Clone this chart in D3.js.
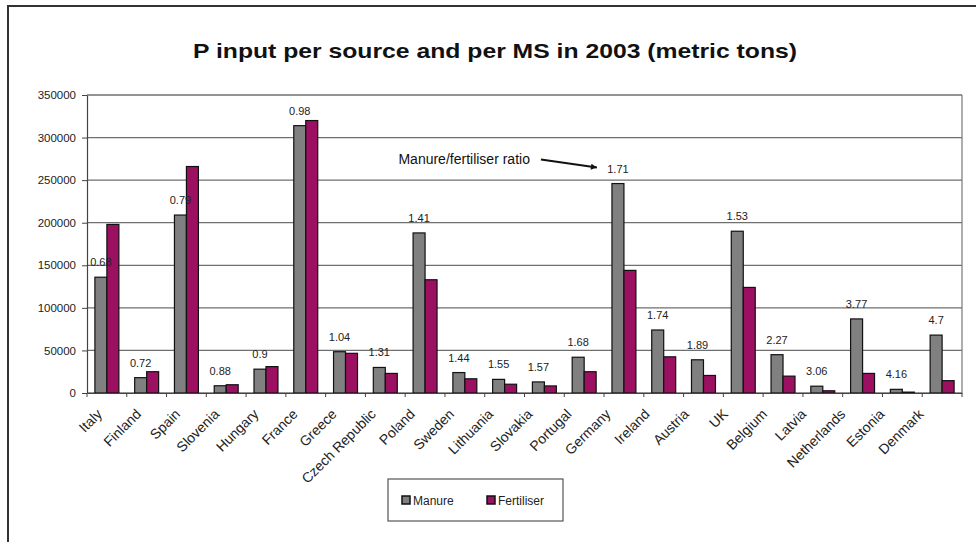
<!DOCTYPE html>
<html>
<head>
<meta charset="utf-8">
<script src="https://cdn.jsdelivr.net/npm/d3@7/dist/d3.min.js"></script>
<style>
  html, body { margin: 0; padding: 0; background: #fff; }
  svg { display: block; font-family: "Liberation Sans", Arial, sans-serif; }
</style>
</head>
<body>
<div id="chart"></div>
<script>
// Member states, in the order of the chart
const countries = ['Italy', 'Finland', 'Spain', 'Slovenia', 'Hungary', 'France', 'Greece',
  'Czech Republic', 'Poland', 'Sweden', 'Lithuania', 'Slovakia', 'Portugal', 'Germany',
  'Ireland', 'Austria', 'UK', 'Belgium', 'Latvia', 'Netherlands', 'Estonia', 'Denmark'];

// P input, metric tons
const manure = [136000, 18000, 209000, 8500, 28000, 314000, 48500, 30000, 188000, 24000,
  16000, 13000, 42000, 246000, 74000, 39000, 190000, 45000, 8000, 87000, 4300, 68000];
const fertiliser = [198000, 25000, 266000, 9700, 31000, 320000, 46600, 23000, 133000, 16700,
  10300, 8300, 25000, 144000, 42500, 20600, 124000, 19800, 2600, 23000, 1030, 14500];

// Manure/fertiliser ratio labels
const ratios = ['0.68', '0.72', '0.79', '0.88', '0.9', '0.98', '1.04', '1.31', '1.41', '1.44',
  '1.55', '1.57', '1.68', '1.71', '1.74', '1.89', '1.53', '2.27', '3.06', '3.77', '4.16', '4.7'];

const seriesNames = ['Manure', 'Fertiliser'];
const yTicks = [0, 50000, 100000, 150000, 200000, 250000, 300000, 350000];

const colors = { Manure: '#808080', Fertiliser: '#9b1060' };

const W = 976, H = 542;
const plot = { left: 87, right: 962, top: 95, bottom: 393 };

const svg = d3.select('#chart').append('svg')
  .attr('width', W).attr('height', H);

// outer chart frame (partly cut off in the scan)
svg.append('path')
  .attr('d', `M8,${H} L8,6 L${W},6`)
  .attr('fill', 'none').attr('stroke', '#333').attr('stroke-width', 2);

svg.append('text')
  .attr('x', 193).attr('y', 58)
  .attr('textLength', 604).attr('lengthAdjust', 'spacingAndGlyphs')
  .attr('font-size', 21).attr('font-weight', 'bold').attr('fill', '#111')
  .text('P input per source and per MS in 2003 (metric tons)');

const x0 = d3.scaleBand().domain(countries).range([plot.left, plot.right]).padding(0);
const x1 = d3.scaleBand().domain(seriesNames).range([0, x0.bandwidth()])
  .paddingInner(0).paddingOuter(0.66);
const y = d3.scaleLinear().domain([0, 350000]).range([plot.bottom, plot.top]);

// gridlines
svg.append('g').selectAll('line').data(yTicks).join('line')
  .attr('x1', plot.left).attr('x2', plot.right)
  .attr('y1', d => y(d)).attr('y2', d => y(d))
  .attr('stroke', '#6f6f6f').attr('stroke-width', 1.3);

// right border of the plot area
svg.append('line')
  .attr('x1', plot.right).attr('x2', plot.right)
  .attr('y1', plot.top).attr('y2', plot.bottom)
  .attr('stroke', '#777').attr('stroke-width', 1.2);

// y axis
const yAxis = svg.append('g')
  .attr('transform', `translate(${plot.left},0)`)
  .call(d3.axisLeft(y).tickValues(yTicks).tickSize(5).tickSizeOuter(0).tickFormat(d3.format('d')));
yAxis.select('.domain').attr('stroke', '#444').attr('stroke-width', 1.2);
yAxis.selectAll('.tick line').attr('stroke', '#444');
yAxis.selectAll('.tick text')
  .attr('font-size', 11.5).attr('fill', '#222').attr('x', -11)
  .attr('font-family', '"Liberation Sans", Arial, sans-serif');

// bars
const rows = countries.map((c, i) => ({ country: c, Manure: manure[i], Fertiliser: fertiliser[i], ratio: ratios[i] }));

const groups = svg.append('g').selectAll('g').data(rows).join('g')
  .attr('transform', d => `translate(${x0(d.country)},0)`);

groups.selectAll('rect')
  .data(d => seriesNames.map(k => ({ key: k, value: d[k] })))
  .join('rect')
  .attr('x', d => x1(d.key))
  .attr('y', d => y(d.value))
  .attr('width', x1.bandwidth())
  .attr('height', d => y(0) - y(d.value))
  .attr('fill', d => colors[d.key])
  .attr('stroke', '#111').attr('stroke-width', 1.2);

// ratio labels over the manure bar
groups.append('text')
  .attr('x', x1('Manure') + x1.bandwidth() / 2)
  .attr('y', d => y(d.Manure) - 11)
  .attr('text-anchor', 'middle')
  .attr('font-size', 11).attr('fill', '#222')
  .text(d => d.ratio);

// x axis (labels drift slightly left across the scan)
const xAxis = svg.append('g')
  .attr('transform', `translate(0,${plot.bottom})`)
  .call(d3.axisBottom(x0).tickSize(0).tickSizeOuter(0));
xAxis.select('.domain').attr('stroke', '#444').attr('stroke-width', 1.2);
xAxis.selectAll('.tick text')
  .attr('font-size', 14).attr('fill', '#222')
  .attr('font-family', '"Liberation Sans", Arial, sans-serif')
  .attr('text-anchor', 'end')
  .attr('dy', 0).attr('y', 0)
  .attr('transform', (d, i) => `translate(${-4 - i * 0.65},22) rotate(-45)`);

// tick marks between categories
svg.append('g').selectAll('line')
  .data(countries.concat(['end']))
  .join('line')
  .attr('x1', (d, i) => plot.left + i * x0.step())
  .attr('x2', (d, i) => plot.left + i * x0.step())
  .attr('y1', plot.bottom).attr('y2', plot.bottom + 4)
  .attr('stroke', '#444');

// annotation arrow pointing at Germany's ratio
const gx = x0('Germany') + x1('Manure');
const tip = [gx - 15, y(manure[countries.indexOf('Germany')]) - 16];
svg.append('text')
  .attr('x', tip[0] - 67).attr('y', tip[1] - 4)
  .attr('text-anchor', 'end')
  .attr('font-size', 14).attr('fill', '#111')
  .text('Manure/fertiliser ratio');
svg.append('defs').append('marker')
  .attr('id', 'arrow').attr('viewBox', '0 0 10 10')
  .attr('refX', 10).attr('refY', 5)
  .attr('markerWidth', 8).attr('markerHeight', 6)
  .attr('orient', 'auto').attr('markerUnits', 'userSpaceOnUse')
  .append('path').attr('d', 'M0,0 L10,5 L0,10 Z').attr('fill', '#111');
svg.append('line')
  .attr('x1', tip[0] - 56).attr('y1', tip[1] - 8)
  .attr('x2', tip[0]).attr('y2', tip[1])
  .attr('stroke', '#111').attr('stroke-width', 2)
  .attr('marker-end', 'url(#arrow)');

// legend
const lg = svg.append('g').attr('transform', 'translate(388,479)');
lg.append('rect')
  .attr('width', 175).attr('height', 42)
  .attr('fill', '#fff').attr('stroke', '#555').attr('stroke-width', 1.2);
const items = lg.selectAll('g').data(seriesNames).join('g')
  .attr('transform', (d, i) => `translate(${14 + i * 85},17)`);
items.append('rect')
  .attr('width', 8).attr('height', 8)
  .attr('fill', d => colors[d]).attr('stroke', '#111').attr('stroke-width', 1.5);
items.append('text')
  .attr('x', 11).attr('y', 8.5)
  .attr('font-size', 12).attr('fill', '#222')
  .text(d => d);
</script>
</body>
</html>
